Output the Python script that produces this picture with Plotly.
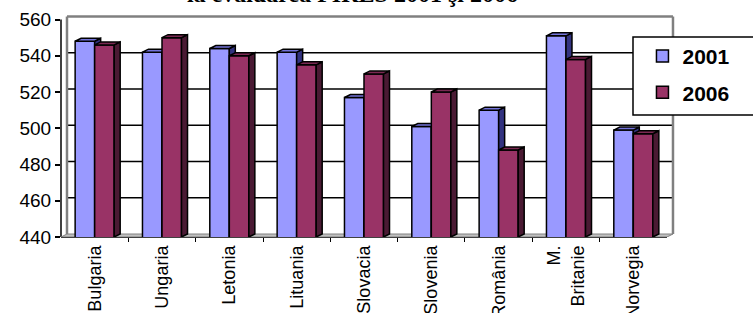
import plotly.graph_objects as go

# ---- data ----
categories = ["Bulgaria", "Ungaria", "Letonia", "Lituania", "Slovacia",
              "Slovenia", "România", "M. Britanie", "Norvegia"]
tick_labels = ["Bulgaria", "Ungaria", "Letonia", "Lituania", "Slovacia",
               "Slovenia", "România", "M.<br>Britanie", "Norvegia"]
values_2001 = [548, 542, 544, 542, 517, 501, 510, 551, 499]
values_2006 = [546, 550, 540, 535, 530, 520, 488, 538, 497]
series_names = ["2001", "2006"]
y_ticks = [440, 460, 480, 500, 520, 540, 560]
title_text = "la evaluarea PIRLS 2001 şi 2006"

# ---- style ----
FONT = "Arial, Liberation Sans, sans-serif"
BAR_W = 0.29
DX = 0.089      # 3D depth offset (x units)
DY = 1.65       # 3D depth offset (y units)
BASE = y_ticks[0]
TOP = y_ticks[-1]
XMIN, XMAX = -0.5, len(categories) - 0.5
colors = {
    "2001": dict(front="#9999FF", top="#7373D9", side="#333380"),
    "2006": dict(front="#993366", top="#7A2952", side="#4A1A33"),
}

idx = list(range(len(categories)))


def faces(xs0, vals):
    tx, ty, sx, sy = [], [], [], []
    for x0, v in zip(xs0, vals):
        x1 = x0 + BAR_W
        tx += [x0, x1, x1 + DX, x0 + DX, x0, None]
        ty += [v, v, v + DY, v + DY, v, None]
        sx += [x1, x1, x1 + DX, x1 + DX, x1, None]
        sy += [BASE, v, v + DY, BASE + DY, BASE, None]
    return tx, ty, sx, sy


fig = go.Figure()
series = [("2001", values_2001, -BAR_W, "x", "y", "a"),
          ("2006", values_2006, 0.0, "x2", "y2", "b")]
for name, vals, off, xa, ya, grp in series:
    c = colors[name]
    fig.add_trace(go.Bar(
        x=idx, y=vals, width=BAR_W, offset=off, name=name,
        xaxis=xa, yaxis=ya, legendgroup=grp,
        marker=dict(color=c["front"], line=dict(color="black", width=1.5)),
        customdata=categories,
        hovertemplate="%{customdata}: %{y}<extra>" + name + "</extra>",
    ))
    xs0 = [i + off for i in idx]
    tx, ty, sx, sy = faces(xs0, vals)
    fig.add_trace(go.Scatter(x=sx, y=sy, mode="lines", fill="toself",
                             fillcolor=c["side"], line=dict(color="black", width=1.5),
                             xaxis=xa, yaxis=ya, showlegend=False, hoverinfo="skip"))
    fig.add_trace(go.Scatter(x=tx, y=ty, mode="lines", fill="toself",
                             fillcolor=c["top"], line=dict(color="black", width=1.5),
                             xaxis=xa, yaxis=ya, showlegend=False, hoverinfo="skip"))

x_range = [XMIN, XMAX + DX + 0.03]
y_range = [BASE, TOP + 2.5]

shapes = []
# back-wall gridlines
for v in y_ticks[1:-1]:
    shapes.append(dict(type="line", xref="x", yref="y", x0=XMIN + DX, x1=XMAX + DX,
                       y0=v + DY, y1=v + DY, line=dict(color="black", width=1.5),
                       layer="below"))
# floor
shapes.append(dict(type="path", xref="x", yref="y",
                   path=f"M {XMIN},{BASE} L {XMAX},{BASE} L {XMAX + DX},{BASE + DY} "
                        f"L {XMIN + DX},{BASE + DY} Z",
                   fillcolor="#C0C0C0", line=dict(color="#808080", width=1), layer="below"))
# wall edges
wall = dict(color="#808080", width=2.5)
shapes.append(dict(type="line", xref="x", yref="y", x0=XMIN + DX, x1=XMIN + DX,
                   y0=BASE + DY, y1=TOP + DY, line=wall, layer="below"))
shapes.append(dict(type="line", xref="x", yref="y", x0=XMIN + DX, x1=XMAX + DX,
                   y0=TOP + DY, y1=TOP + DY, line=wall, layer="below"))
shapes.append(dict(type="line", xref="x", yref="y", x0=XMAX + DX, x1=XMAX + DX,
                   y0=BASE + DY, y1=TOP + DY, line=wall, layer="below"))
# axis lines
shapes.append(dict(type="line", xref="x", yref="paper", x0=XMIN, x1=XMAX, y0=0, y1=0,
                   line=dict(color="black", width=1.5), layer="below"))
shapes.append(dict(type="line", xref="paper", yref="y", x0=0, x1=0, y0=BASE, y1=TOP,
                   line=dict(color="black", width=1.5), layer="below"))
# legend frame
shapes.append(dict(type="rect", xref="paper", yref="paper", x0=0.9316, x1=1.25,
                   y0=0.5495, y1=0.9009, fillcolor="white",
                   line=dict(color="black", width=1.5), layer="above"))

fig.update_layout(
    width=753, height=313,
    margin=dict(l=61, r=78, t=15, b=76, autoexpand=False),
    paper_bgcolor="white", plot_bgcolor="white",
    font=dict(family=FONT, color="black"),
    barmode="overlay",
    showlegend=True,
    legend=dict(x=0.9470, y=0.9060, xanchor="left", yanchor="top",
                bgcolor="rgba(0,0,0,0)", borderwidth=0,
                font=dict(family=FONT, size=21, color="black", weight="bold"),
                traceorder="grouped", tracegroupgap=6),
    xaxis=dict(range=x_range, tickvals=idx, ticktext=tick_labels, tickangle=-90,
               tickfont=dict(size=18), showgrid=False, zeroline=False, showline=False,
               ticks="", fixedrange=True, automargin=False, ticklabelstandoff=4,
               minor=dict(tickvals=[i + 0.5 for i in idx[:-1]], ticks="outside",
                          ticklen=4, tickcolor="black", tickwidth=1, showgrid=False)),
    xaxis2=dict(range=x_range, overlaying="x", anchor="y2", visible=False,
                fixedrange=True, automargin=False),
    yaxis=dict(range=y_range, tickvals=y_ticks, ticks="outside", ticklen=5,
               tickwidth=1.5, tickcolor="black", tickfont=dict(size=19),
               showgrid=False, zeroline=False, showline=False, fixedrange=True,
               automargin=False),
    yaxis2=dict(range=y_range, overlaying="y", anchor="x2", visible=False,
                fixedrange=True, automargin=False),
    shapes=shapes,
    annotations=[dict(text="<b>" + title_text + "</b>", xref="paper", yref="paper",
                      x=0.474, y=1.094, xanchor="center", yanchor="middle",
                      showarrow=False,
                      font=dict(family="Times New Roman, Liberation Serif, serif",
                                size=24, color="black"))],
)

fig.write_html("out.html",
               config={"displayModeBar": False},
               post_script="document.body.style.margin='0';"
                           "document.body.style.overflow='hidden';")
